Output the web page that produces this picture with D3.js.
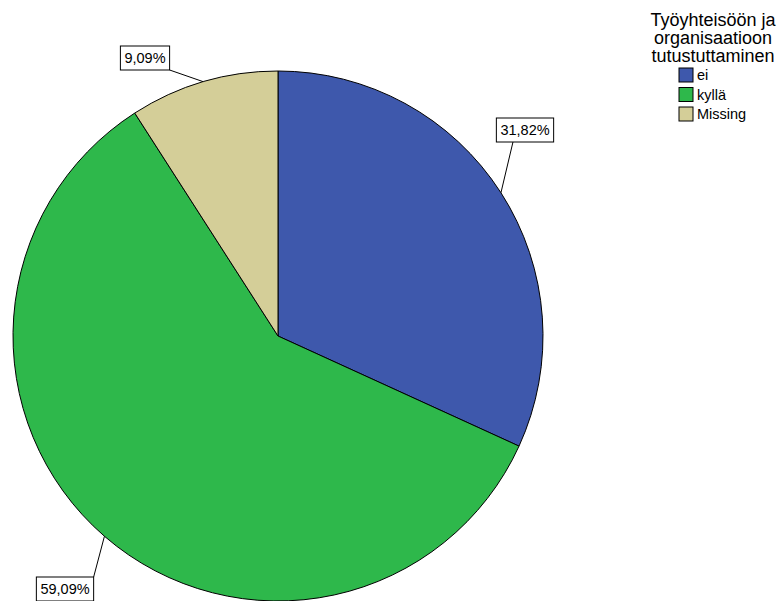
<!DOCTYPE html>
<html>
<head>
<meta charset="utf-8">
<title>Työyhteisöön ja organisaatioon tutustuttaminen</title>
<script src="https://d3js.org/d3.v7.min.js"></script>
<style>
    body { margin: 0; background: #fff; }
    svg text { font-family: Arial, "Liberation Sans", sans-serif; fill: #000; }
</style>
</head>
<body>
<div id="chart"></div>
<script>
    // data
    var categories = ["ei", "kyllä", "Missing"];
    var percents = [31.82, 59.09, 9.09];
    var labels = ["31,82%", "59,09%", "9,09%"];
    var colors = ["#3e58ac", "#2eb84b", "#d4ce98"];
    var legendTitle = ["Työyhteisöön ja", "organisaatioon", "tutustuttaminen"];

    // label box placement (center offset from pie center) and leader attach point on box
    var boxOffset = [[247, -206], [-213, 253], [-133, -278]];
    var attach = [[0.29, 1], [1, 0], [1, 1]];

    var width = 783, height = 601;
    var cx = 278, cy = 336, r = 265;

    var svg = d3.select("#chart").append("svg")
        .attr("width", width)
        .attr("height", height);

    var pie = d3.pie().sort(null).value(function (d) { return d; });
    var arcs = pie(percents);
    var arc = d3.arc().innerRadius(0).outerRadius(r);

    var g = svg.append("g").attr("transform", "translate(" + cx + "," + cy + ")");

    g.selectAll("path.slice")
        .data(arcs)
        .enter().append("path")
        .attr("class", "slice")
        .attr("d", arc)
        .attr("fill", function (d, i) { return colors[i]; })
        .attr("stroke", "#000")
        .attr("stroke-width", 1);

    // labels with leader lines
    arcs.forEach(function (d, i) {
        var mid = (d.startAngle + d.endAngle) / 2;
        var ex = r * Math.sin(mid), ey = -r * Math.cos(mid);
        var t = g.append("text")
            .attr("x", boxOffset[i][0])
            .attr("y", boxOffset[i][1])
            .attr("dy", "0.35em")
            .attr("text-anchor", "middle")
            .style("font-size", "14.5px")
            .text(labels[i]);
        var bb = t.node().getBBox();
        var bw = bb.width + 8, bh = 24;
        var bx = boxOffset[i][0] - bw / 2, by = boxOffset[i][1] - bh / 2;
        g.insert("rect", "text")
            .attr("x", bx).attr("y", by)
            .attr("width", bw).attr("height", bh)
            .attr("fill", "#fff")
            .attr("stroke", "#000")
            .attr("stroke-width", 1);
        g.append("line")
            .attr("x1", ex).attr("y1", ey)
            .attr("x2", bx + attach[i][0] * bw)
            .attr("y2", by + attach[i][1] * bh)
            .attr("stroke", "#000")
            .attr("stroke-width", 1);
    });

    // legend
    var lg = svg.append("g");
    lg.selectAll("text.title")
        .data(legendTitle)
        .enter().append("text")
        .attr("class", "title")
        .attr("x", 713)
        .attr("y", function (d, i) { return 26 + i * 18; })
        .attr("text-anchor", "middle")
        .style("font-size", "18px")
        .text(function (d) { return d; });

    var items = lg.selectAll("g.item")
        .data(categories)
        .enter().append("g")
        .attr("class", "item")
        .attr("transform", function (d, i) { return "translate(679," + (68 + i * 19.5) + ")"; });
    items.append("rect")
        .attr("width", 14).attr("height", 14)
        .attr("fill", function (d, i) { return colors[i]; })
        .attr("stroke", "#000")
        .attr("stroke-width", 1);
    items.append("text")
        .attr("x", 18).attr("y", 7)
        .attr("dy", "0.35em")
        .style("font-size", "14.5px")
        .text(function (d) { return d; });
</script>
</body>
</html>
